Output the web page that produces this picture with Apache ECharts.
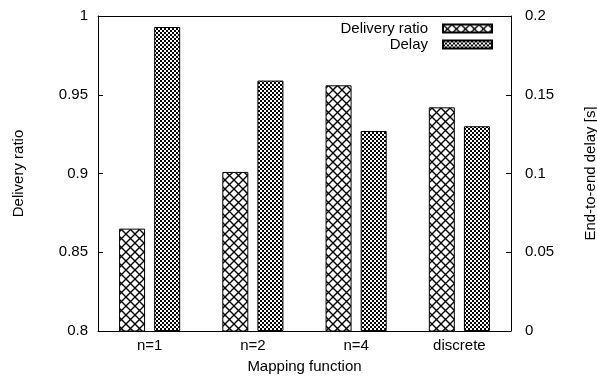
<!DOCTYPE html>
<html>
<head>
<meta charset="utf-8">
<script src="https://cdn.jsdelivr.net/npm/echarts@6/dist/echarts.min.js"></script>
<style>html,body{margin:0;padding:0;background:#fff;}#c{width:597px;height:376px;}</style>
</head>
<body>
<div id="c"></div>
<script>
var categories = ['n=1', 'n=2', 'n=4', 'discrete'];
var deliveryRatio = [0.865, 0.901, 0.956, 0.942];
var delay = [0.193, 0.159, 0.127, 0.130];
var leftTicks = {min: 0.8, max: 1, interval: 0.05};
var rightTicks = {min: 0, max: 0.2, interval: 0.05};

function crossPattern() {
  var s = 9, c = document.createElement('canvas');
  c.width = s; c.height = s;
  var g = c.getContext('2d');
  g.fillStyle = '#fff'; g.fillRect(0, 0, s, s);
  g.strokeStyle = '#000'; g.lineWidth = 1.4;
  g.beginPath();
  g.moveTo(-1, -1); g.lineTo(s + 1, s + 1);
  g.moveTo(s + 1, -1); g.lineTo(-1, s + 1);
  g.stroke();
  return c;
}
function checkPattern() {
  var s = 4, c = document.createElement('canvas');
  c.width = s; c.height = s;
  var g = c.getContext('2d');
  g.fillStyle = '#fff'; g.fillRect(0, 0, s, s);
  g.fillStyle = '#000';
  g.fillRect(0, 0, 2, 2); g.fillRect(2, 2, 2, 2);
  return c;
}

var font = 'Liberation Sans';
var fs = 15;
var chart = echarts.init(document.getElementById('c'));
chart.setOption({
  animation: false,
  backgroundColor: '#fff',
  textStyle: {fontFamily: font, color: '#000'},
  grid: {left: 98, right: 86, top: 16, bottom: 45, containLabel: false, outerBoundsMode: 'none'},
  legend: [
    {data: ['Delivery ratio'], icon: 'rect', right: 99, top: 16, align: 'right', itemWidth: 49, itemHeight: 8,
     textStyle: {fontSize: fs, color: '#000', fontFamily: font, padding: [0, 10, 0, 0]}},
    {data: ['Delay'], icon: 'rect', right: 99, top: 32, align: 'right', itemWidth: 49, itemHeight: 8,
     textStyle: {fontSize: fs, color: '#000', fontFamily: font, padding: [0, 10, 0, 0]}}
  ],
  xAxis: [
    {type: 'category', data: categories, position: 'bottom',
     name: 'Mapping function', nameLocation: 'middle', nameGap: 28,
     nameTextStyle: {fontSize: fs, color: '#000', fontFamily: font},
     axisLine: {lineStyle: {color: '#000', width: 1}},
     axisTick: {inside: true, alignWithLabel: true, length: 4, lineStyle: {color: '#000'}},
     axisLabel: {fontSize: fs, color: '#000', fontFamily: font, margin: 7}},
    {type: 'category', data: categories, position: 'top',
     axisLine: {lineStyle: {color: '#000', width: 1}},
     axisTick: {inside: true, alignWithLabel: true, length: 4, lineStyle: {color: '#000'}},
     axisLabel: {show: false}}
  ],
  yAxis: [
    {type: 'value', min: leftTicks.min, max: leftTicks.max, interval: leftTicks.interval,
     name: 'Delivery ratio', nameLocation: 'middle', nameGap: 72, nameRotate: 90,
     nameTextStyle: {fontSize: fs, color: '#000', fontFamily: font},
     axisLine: {show: true, lineStyle: {color: '#000', width: 1}},
     axisTick: {show: true, inside: true, length: 5, lineStyle: {color: '#000'}},
     splitLine: {show: false},
     axisLabel: {fontSize: fs, color: '#000', fontFamily: font, margin: 10}},
    {type: 'value', min: rightTicks.min, max: rightTicks.max, interval: rightTicks.interval,
     position: 'right',
     name: 'End-to-end delay [s]', nameLocation: 'middle', nameGap: 72, nameRotate: 90,
     nameTextStyle: {fontSize: fs, color: '#000', fontFamily: font},
     axisLine: {show: true, lineStyle: {color: '#000', width: 1}},
     axisTick: {show: true, inside: true, length: 5, lineStyle: {color: '#000'}},
     splitLine: {show: false},
     axisLabel: {fontSize: fs, color: '#000', fontFamily: font, margin: 14}}
  ],
  series: [
    {name: 'Delivery ratio', type: 'bar', data: deliveryRatio, xAxisIndex: 0, yAxisIndex: 0,
     barWidth: 26, barGap: '35%',
     itemStyle: {color: {image: crossPattern(), repeat: 'repeat'}, borderColor: '#000', borderWidth: 1}},
    {name: 'Delay', type: 'bar', data: delay, xAxisIndex: 0, yAxisIndex: 1,
     barWidth: 26, barGap: '35%',
     itemStyle: {color: {image: checkPattern(), repeat: 'repeat'}, borderColor: '#000', borderWidth: 1}}
  ]
});
</script>
</body>
</html>
